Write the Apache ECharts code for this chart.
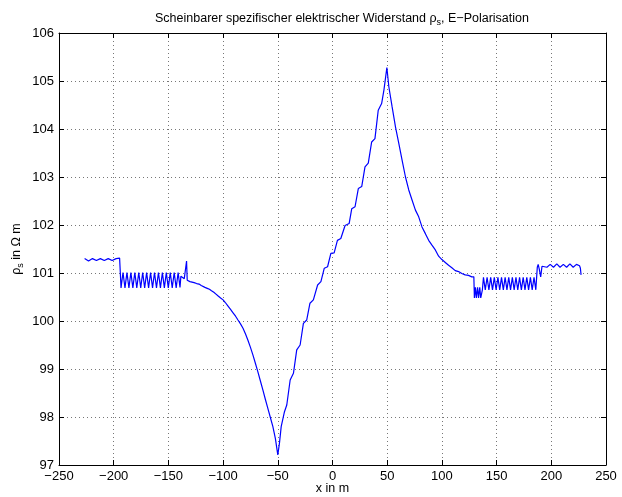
<!DOCTYPE html>
<html>
<head>
<meta charset="utf-8">
<script src="https://cdn.jsdelivr.net/npm/echarts@6/dist/echarts.min.js"></script>
<style>
  html, body { margin: 0; padding: 0; background: #fff; }
  #main { width: 622px; height: 497px; }
</style>
</head>
<body>
<div id="main"></div>
<script>
// x positions (m) and apparent resistivity (Ohm m)
const xPos = [
  -226.6, -224.8, -223.0, -221.2, -219.4, -217.6, -215.8, -214.0, -212.2, -210.4,
  -208.6, -206.8, -205.0, -203.2, -201.4, -199.6, -197.8, -196.0, -194.6, -193.9,
  -193.3, -191.5, -189.7, -187.9, -186.1, -184.3, -182.5, -180.7, -178.9, -177.1,
  -175.3, -173.5, -171.7, -169.9, -168.1, -166.3, -164.5, -162.7, -160.9, -159.1,
  -157.3, -155.5, -153.7, -151.9, -150.1, -148.3, -146.5, -144.7, -142.9, -141.1,
  -139.4, -138.6, -137.0, -135.5, -134.0, -133.4, -132.8, -131.5, -130.3, -128.5,
  -126.5, -124.2, -122.0, -120.0, -118.3, -116.6, -114.5, -112.5, -110.6, -108.5,
  -106.5, -104.5, -102.3, -100.0, -97.8, -95.5, -93.2, -90.9, -88.6, -86.4,
  -84.1, -81.8, -79.5, -77.3, -75.0, -72.7, -70.5, -68.2, -65.9, -63.6,
  -61.4, -59.1, -56.8, -54.5, -52.2, -50.0,
  -48.5, -46.9, -43.9, -41.8, -38.7, -35.7, -32.7, -29.6, -26.6, -23.6,
  -20.6, -17.5, -13.6, -10.6, -7.5, -4.5, -1.5, 1.5, 4.5, 7.6,
  11.5, 15.2, 17.6, 20.6, 23.6, 26.7, 29.7, 32.7, 35.8, 38.8,
  41.8, 44.9, 47.0, 49.7,
  51.5, 54.5, 57.6, 60.6, 63.6, 66.7, 69.7, 72.7, 75.8, 78.8,
  81.8, 84.9, 87.9, 90.9, 94.0, 97.0, 100.0, 103.1, 106.1, 109.1,
  112.2, 115.2, 118.2, 121.3, 124.3, 127.3, 129.2,
  129.7, 130.6, 131.5, 132.6, 133.5, 134.6, 135.5, 136.5, 137.0,
  138.0, 139.65, 141.3, 142.95, 144.6, 146.25, 147.9, 149.55, 151.2, 152.85,
  154.5, 156.15, 157.8, 159.45, 161.1, 162.75, 164.4, 166.05, 167.7, 169.35,
  171.0, 172.65, 174.3, 175.95, 177.6, 179.25, 180.9, 182.55, 184.2, 185.85,
  186.4,
  187.2, 188.0, 189.0, 190.3, 191.5, 193.0, 196.0, 199.0, 202.0, 205.0,
  208.0, 211.0, 214.0, 217.0, 220.0, 223.0, 225.8, 226.6, 227.2
];
const rho = [
  101.30, 101.27, 101.25, 101.28, 101.30, 101.28, 101.26, 101.29, 101.30, 101.27,
  101.26, 101.29, 101.30, 101.27, 101.26, 101.29, 101.30, 101.30, 101.31, 101.33,
  100.69, 101.01, 100.69, 101.01, 100.69, 101.01, 100.69, 101.01, 100.69, 101.01,
  100.69, 101.01, 100.69, 101.01, 100.69, 101.01, 100.69, 101.01, 100.69, 101.01,
  100.69, 101.01, 100.69, 101.01, 100.69, 101.01, 100.69, 101.01, 100.69, 101.01,
  100.70, 100.93, 100.90, 100.88, 100.86, 101.25, 100.85, 100.84, 100.82, 100.81,
  100.80, 100.78, 100.77, 100.74, 100.73, 100.70, 100.68, 100.66, 100.63, 100.60,
  100.56, 100.52, 100.48, 100.44, 100.38, 100.31, 100.24, 100.17, 100.10, 100.02,
  99.94, 99.85, 99.73, 99.60, 99.45, 99.29, 99.12, 98.94, 98.75, 98.56,
  98.37, 98.18, 97.99, 97.80, 97.55, 97.21,
  97.45, 97.80, 98.11, 98.25, 98.77, 98.91, 99.40, 99.50, 99.95, 100.02,
  100.37, 100.44, 100.75, 100.82, 101.10, 101.13, 101.41, 101.42, 101.68, 101.72,
  101.99, 102.03, 102.34, 102.38, 102.76, 102.80, 103.21, 103.29, 103.73, 103.80,
  104.39, 104.53, 104.81, 105.28,
  104.88, 104.46, 104.04, 103.70, 103.35, 103.00, 102.73, 102.52, 102.31, 102.17,
  101.96, 101.82, 101.68, 101.58, 101.48, 101.35, 101.28, 101.22, 101.16, 101.11,
  101.05, 101.03, 100.99, 100.96, 100.95, 100.92, 100.92,
  100.48, 100.70, 100.48, 100.70, 100.48, 100.70, 100.48, 100.48, 100.65,
  100.91, 100.65, 100.91, 100.65, 100.91, 100.65, 100.91, 100.65, 100.91, 100.65,
  100.91, 100.65, 100.91, 100.65, 100.91, 100.65, 100.91, 100.65, 100.91, 100.65,
  100.91, 100.65, 100.91, 100.65, 100.91, 100.65, 100.91, 100.65, 100.91, 100.65,
  100.65,
  101.12, 101.18, 101.08, 100.92, 101.14, 101.18, 101.12, 101.18, 101.12, 101.19,
  101.12, 101.18, 101.12, 101.19, 101.12, 101.18, 101.15, 101.10, 100.96
];

const font = 'Liberation Sans, Arial, Helvetica, sans-serif';
const minus = v => String(v).replace('-', '\u2212');

let myChart = echarts.init(document.getElementById('main'));

let option = {
  animation: false,
  backgroundColor: '#fff',
  title: {
    text: 'Scheinbarer spezifischer elektrischer Widerstand ρ{s|s}, E\u2212Polarisation',
    left: 337,
    textAlign: 'center',
    top: 5,
    textStyle: {
      fontFamily: font, fontSize: 12.5, fontWeight: 'normal', color: '#000',
      rich: { s: { fontFamily: font, fontSize: 9, color: '#000', padding: [8, 0, 0, 0] } }
    }
  },
  grid: { left: 59, top: 33, width: 547, height: 432, outerBoundsMode: 'none', containLabel: false },
  xAxis: [{
    type: 'value', min: -250, max: 250, interval: 50,
    name: 'x in m', nameLocation: 'middle', nameGap: 17, nameMoveOverlap: false,
    nameTextStyle: { fontFamily: font, fontSize: 12.5, color: '#000' },
    axisLine: { show: true, onZero: false, lineStyle: { color: '#000', width: 1 } },
    axisTick: { inside: true, length: 5, lineStyle: { color: '#000' } },
    axisLabel: { fontFamily: font, fontSize: 13, color: '#000', margin: 5, formatter: minus },
    splitLine: { show: true, lineStyle: { color: '#777', type: [1, 3], width: 1 } }
  }, {
    type: 'value', position: 'top', min: -250, max: 250, interval: 50,
    axisLine: { show: true, onZero: false, lineStyle: { color: '#000', width: 1 } },
    axisTick: { inside: true, length: 5, lineStyle: { color: '#000' } },
    axisLabel: { show: false }, splitLine: { show: false }
  }],
  yAxis: [{
    type: 'value', min: 97, max: 106, interval: 1,
    name: '{r|ρ}{s|s}{r| in Ω m}', nameLocation: 'middle', nameGap: 34, nameMoveOverlap: false,
    nameTextStyle: {
      fontFamily: font, fontSize: 12.5, color: '#000',
      rich: {
        r: { fontFamily: font, fontSize: 12.5, color: '#000' },
        s: { fontFamily: font, fontSize: 9, color: '#000', padding: [8, 0, 0, 0] }
      }
    },
    axisLine: { show: true, onZero: false, lineStyle: { color: '#000', width: 1 } },
    axisTick: { inside: true, length: 5, lineStyle: { color: '#000' } },
    axisLabel: { fontFamily: font, fontSize: 13, color: '#000', margin: 5 },
    splitLine: { show: true, lineStyle: { color: '#777', type: [1, 3], width: 1 } }
  }, {
    type: 'value', position: 'right', min: 97, max: 106, interval: 1,
    axisLine: { show: true, onZero: false, lineStyle: { color: '#000', width: 1 } },
    axisTick: { inside: true, length: 5, lineStyle: { color: '#000' } },
    axisLabel: { show: false }, splitLine: { show: false }
  }],
  series: [{
    type: 'line',
    xAxisIndex: 0, yAxisIndex: 0,
    data: xPos.map((x, i) => [x, rho[i]]),
    showSymbol: false,
    lineStyle: { color: '#0000ff', width: 1.2 },
    itemStyle: { color: '#0000ff' }
  }]
};
myChart.setOption(option);
</script>
</body>
</html>
